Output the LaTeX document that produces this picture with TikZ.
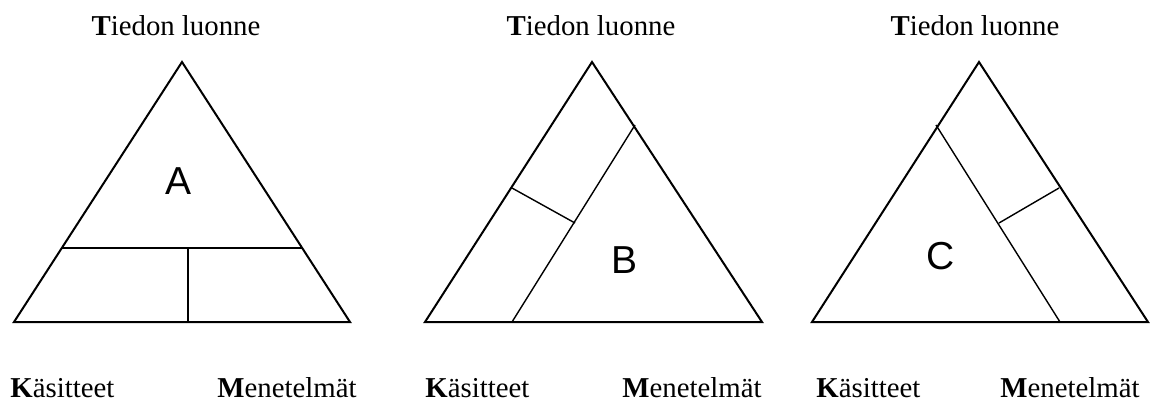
\documentclass[tikz,border=0pt]{standalone}
\usepackage{fontspec}
\setmainfont{Liberation Serif}
\newfontfamily\letterfont{Liberation Sans}
\usetikzlibrary{positioning}

\begin{document}
\begin{tikzpicture}[
  x=0.5pt, y=-0.5pt,
  frame/.style={line width=1pt, line join=miter},
  part/.style={line width=0.7pt},
  corner/.style={font=\fontsize{14.4}{17}\selectfont, inner sep=0pt},
  tag/.style={font=\letterfont\fontsize{19.5}{22}\selectfont, inner sep=0pt},
]
  \useasboundingbox (0,0) rectangle (1153,403);

  % triangle A
  \coordinate (a top) at (182,62);
  \coordinate (a left) at (14,322);
  \coordinate (a right) at (350,322);
  \coordinate (a cutl) at (62,248);
  \coordinate (a cutr) at (302,248);
  \coordinate (a mid) at (188,248);
  \coordinate (a base) at (188,322);
  \draw[frame] (a top) -- (a right) -- (a left) -- cycle;
  \draw[part] (a cutl) -- (a cutr);
  \draw[part, line width=0.9pt] (a mid) -- (a base);
  \node[tag] (a tag) at (179,181) {A};

  % triangle B
  \coordinate (b top) at (592,62);
  \coordinate (b left) at (425,322);
  \coordinate (b right) at (762,322);
  \coordinate (b foot) at (512,322);
  \coordinate (b head) at (635,125);
  \coordinate (b side) at (512,188);
  \coordinate (b join) at (575,223);
  \draw[frame] (b top) -- (b right) -- (b left) -- cycle;
  \draw[part] (b foot) -- (b head);
  \draw[part] (b side) -- (b join);
  \node[tag] (b tag) at (625,260) {B};

  % triangle C
  \coordinate (c top) at (979,62);
  \coordinate (c left) at (812,322);
  \coordinate (c right) at (1148,322);
  \coordinate (c head) at (936,125);
  \coordinate (c foot) at (1060,322);
  \coordinate (c join) at (999,223);
  \coordinate (c side) at (1059,188);
  \draw[frame] (c top) -- (c right) -- (c left) -- cycle;
  \draw[part] (c head) -- (c foot);
  \draw[part] (c join) -- (c side);
  \node[tag] (c tag) at (941,256) {C};

  % corner labels
  \node[corner, anchor=base] (a nature) at (176,35) {\textbf{T}iedon luonne};
  \node[corner, anchor=base] (b nature) at (591,35) {\textbf{T}iedon luonne};
  \node[corner, anchor=base] (c nature) at (975,35) {\textbf{T}iedon luonne};
  \node[corner, anchor=base west] (a concepts) at (10,397) {\textbf{K}äsitteet};
  \node[corner, anchor=base east] (a methods) at (357,397) {\textbf{M}enetelmät};
  \node[corner, anchor=base west] (b concepts) at (425,397) {\textbf{K}äsitteet};
  \node[corner, anchor=base east] (b methods) at (762,397) {\textbf{M}enetelmät};
  \node[corner, anchor=base west] (c concepts) at (816,397) {\textbf{K}äsitteet};
  \node[corner, anchor=base east] (c methods) at (1140,397) {\textbf{M}enetelmät};
\end{tikzpicture}
\end{document}
